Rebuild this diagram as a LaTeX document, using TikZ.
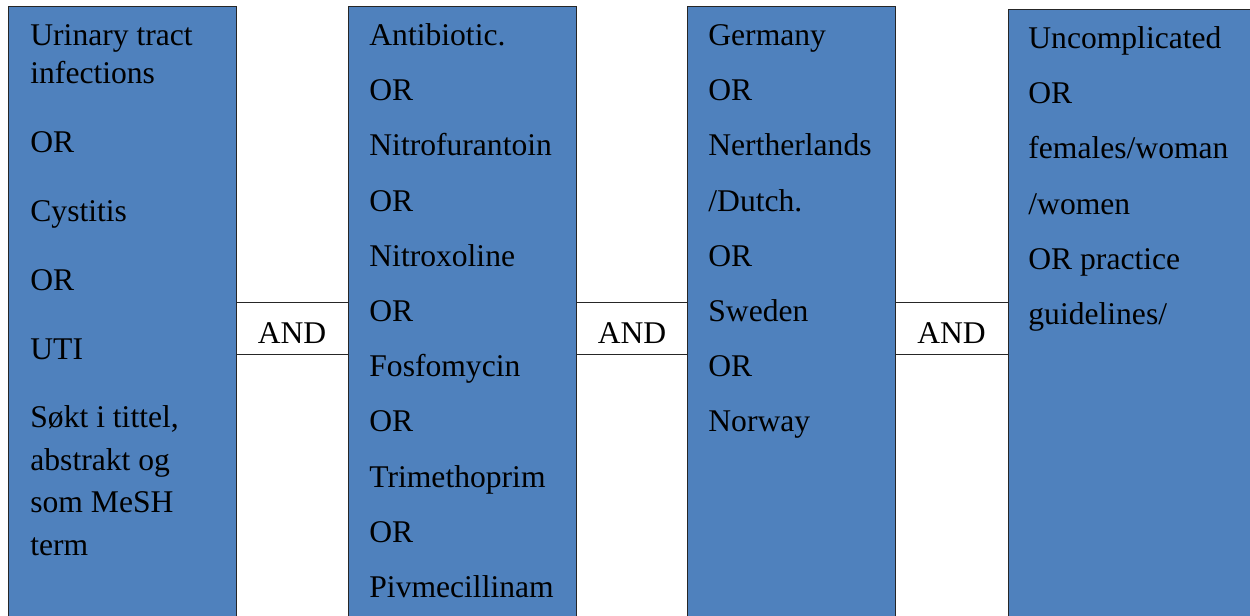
\documentclass[tikz,border=0pt]{standalone}
\usepackage{fontspec}
\setmainfont{Liberation Serif}
\definecolor{boxblue}{HTML}{4F81BD}
\begin{document}
\begin{tikzpicture}[x=0.5pt,y=-0.5pt,
  termbox/.style={draw=black!85, line width=0.7pt, fill=boxblue, anchor=north west, inner sep=0pt, minimum height=320pt},
  term/.style={anchor=base west, inner sep=0pt, font=\fontsize{15.8}{19}\selectfont},
  andbox/.style={inner sep=0pt, minimum height=25.5pt, text height=14.5pt, text depth=0pt, font=\fontsize{15.8}{19}\selectfont},
  andline/.style={draw=black!85, line width=0.6pt}]
\useasboundingbox (0,0) rectangle (1250,616);
\clip (0,0) rectangle (1250,616);
% search blocks
\node[termbox, minimum width=114pt] (box1) at (8,6){};
\node[termbox, minimum width=114pt] (box2) at (348,6){};
\node[termbox, minimum width=104pt] (box3) at (687,6){};
\node[termbox, minimum width=150pt] (box4) at (1008,9){};
% first block
\node[term] (t11) at (30,45){Urinary tract};
\node[term] (t12) at (30,83){infections};
\node[term] (t13) at (30,152){OR};
\node[term] (t14) at (30,221){Cystitis};
\node[term] (t15) at (30,290){OR};
\node[term] (t16) at (30,359){UTI};
\node[term] (t17) at (30,427){Søkt i tittel,};
\node[term] (t18) at (30,470){abstrakt og};
\node[term] (t19) at (30,512){som MeSH};
\node[term] (t110) at (30,555){term};
% second block
\node[term] (t21) at (369,45){Antibiotic.};
\node[term] (t22) at (369,100){OR};
\node[term] (t23) at (369,155){Nitrofurantoin};
\node[term] (t24) at (369,211){OR};
\node[term] (t25) at (369,266){Nitroxoline};
\node[term] (t26) at (369,321){OR};
\node[term] (t27) at (369,376){Fosfomycin};
\node[term] (t28) at (369,431){OR};
\node[term] (t29) at (369,487){Trimethoprim};
\node[term] (t210) at (369,542){OR};
\node[term] (t211) at (369,597){Pivmecillinam};
% third block
\node[term] (t31) at (708,45){Germany};
\node[term] (t32) at (708,100){OR};
\node[term] (t33) at (708,155){Nertherlands};
\node[term] (t34) at (708,211){/Dutch.};
\node[term] (t35) at (708,266){OR};
\node[term] (t36) at (708,321){Sweden};
\node[term] (t37) at (708,376){OR};
\node[term] (t38) at (708,431){Norway};
% fourth block
\node[term] (t41) at (1028,48){Uncomplicated};
\node[term] (t42) at (1028,103){OR};
\node[term] (t43) at (1028,158){females/woman};
\node[term] (t44) at (1028,214){/women};
\node[term] (t45) at (1028,269){OR practice};
\node[term] (t46) at (1028,324){guidelines/};
% AND links
\node[andbox] (and1) at (292,328.5){AND};
\node[andbox] (and2) at (632,328.5){AND};
\node[andbox] (and3) at (951.5,328.5){AND};
\draw[andline](box1.east |- and1.north) -- (box2.west |- and1.north);
\draw[andline](box1.east |- and1.south) -- (box2.west |- and1.south);
\draw[andline](box2.east |- and2.north) -- (box3.west |- and2.north);
\draw[andline](box2.east |- and2.south) -- (box3.west |- and2.south);
\draw[andline](box3.east |- and3.north) -- (box4.west |- and3.north);
\draw[andline](box3.east |- and3.south) -- (box4.west |- and3.south);
\end{tikzpicture}
\end{document}
